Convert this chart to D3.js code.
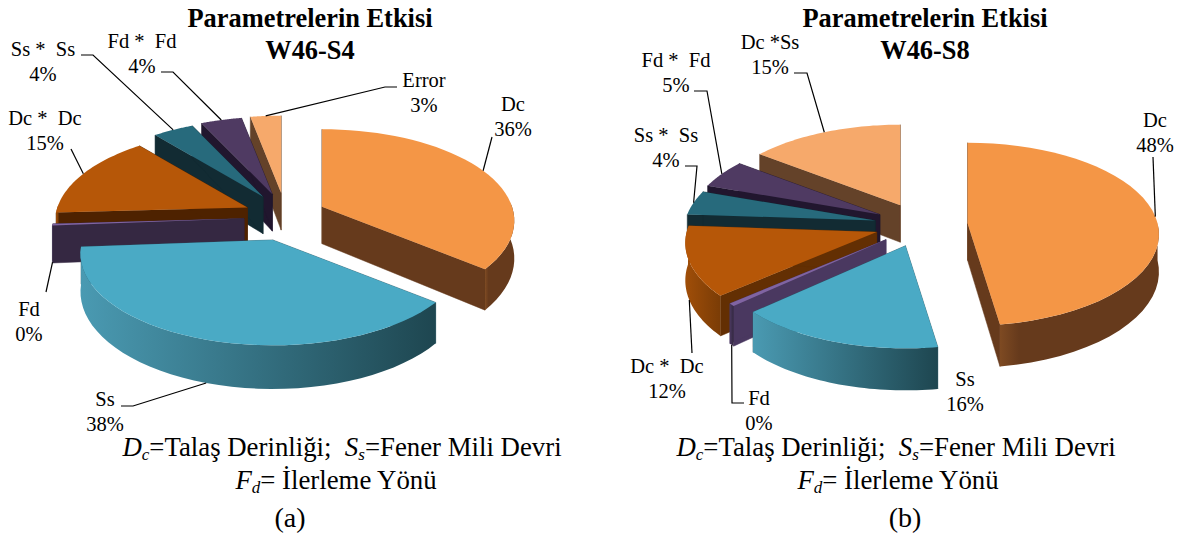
<!DOCTYPE html>
<html><head><meta charset="utf-8">
<script src="https://cdn.jsdelivr.net/npm/d3@7"></script>
<style>
html,body{margin:0;padding:0;background:#fff}
svg{display:block}
text{font-family:"Liberation Serif",serif;fill:#000}
</style></head><body>
<svg id="c" width="1181" height="538"></svg>
<script>
// ---- data ----
const namesA  = ["Dc","Ss","Fd","Dc *  Dc","Ss *  Ss","Fd *  Fd","Error"];
const valuesA = [36,38,0.3,15,4,4,3];
const namesB  = ["Dc","Ss","Fd","Dc *  Dc","Ss *  Ss","Fd *  Fd","Dc *Ss"];
const valuesB = [47.6,15.6,0.49,12.4,4.3,5,14.61];
const titleLine1 = "Parametrelerin Etkisi";
const subtitleA = "W46-S4", subtitleB = "W46-S8";
// ---- styles ----
const topColors   = ["#F49646","#4AAAC5","#8064A2","#B65708","#276A7C","#4F3A62","#F6A96B"];
const wallLight   = ["#7E4A22","#4A9AB2","#4A3860","#A04E08","#16303A","#21162E","#644229"];
const wallDark    = ["#663A1C","#1E4650","#332840","#7A3C06","#122B33","#21162E","#644229"];
const edgeColors  = ["#663A1C","#2A5A68","#4A3860","#632F03","#122B33","#21162E","#644229"];
const wallStop    = [0.12,1,1,1,1,1,1];
// ---- layout ----
const R=190,T=37;
const layoutA={cx:285,cy:217,e:41,ey:24,K:0.47,P:0.153,edgeAlt:{2:"#352842",3:"#4E2200"},
 labels:[[513,104],[105,399],[29,309],[45,118],[43,49],[142,41],[424,80]],
 elbows:[[[492,137]],[[133,406],[121,406]],[[46,292]],[[71,149]],[[93,55],[81,55]],[[173,72],[161,72]],[[385,87],[397,87]]]};
const layoutB={cx:921,cy:225,e:46.7,ey:22,K:0.475,P:0.12,edgeAlt:{},
 labels:[[1155,120],[965,379],[759,398],[667,366],[666,135],[676,60],[770,42]],
 elbows:[[[1153,157]],null,[[732,403],[744,403]],[[692,353]],[[697,166],[685,166]],[[707,91],[694,91]],[[807,73],[794,73]]]};

const svg=d3.select("#c");
const defs=svg.append("defs");
const line=d3.line();
const pct=d3.format(".0f");

function drawPie(id,names,values,L){
  const arcs=d3.pie().sort(null)(values).map((a,i)=>({...a,i,mid:(a.startAngle+a.endAngle)/2}));
  const proj=(a,d,r,h)=>{
    const s=1/(1+L.P*Math.cos(d)*r);
    const ax=L.cx+Math.sin(a)*L.e, ay=L.cy-Math.cos(a)*L.ey;
    return [ax+R*Math.sin(d)*r*s, ay-R*L.K*Math.cos(d)*r*s+h*T*s];
  };
  const g=svg.append("g");
  const order=arcs.slice().sort((p,q)=>Math.cos(q.mid)-Math.cos(p.mid));
  const samples=(d)=>d3.range(0,41).map(j=>d.startAngle+(d.endAngle-d.startAngle)*j/40);
  const sl=g.selectAll("g.s").data(order).join("g").attr("class","s");
  sl.each(function(d){
    const n=d3.select(this),c=L.edgeAlt[d.i]||edgeColors[d.i];
    [d.startAngle,d.endAngle].forEach(e=>{
      n.append("path").attr("fill",c).attr("stroke",c).attr("stroke-width",0.5)
       .attr("d",line([proj(d.mid,e,0,0),proj(d.mid,e,1,0),proj(d.mid,e,1,1),proj(d.mid,e,0,1)])+"Z");
    });
    const front=samples(d).filter(e=>Math.cos(e)<=0.05);
    if(front.length>1){
      const topE=front.map(e=>proj(d.mid,e,1,0)),botE=front.map(e=>proj(d.mid,e,1,1)).reverse();
      const xs=topE.map(p=>p[0]);
      const gid=id+"w"+d.i;
      const gr=defs.append("linearGradient").attr("id",gid).attr("gradientUnits","userSpaceOnUse")
        .attr("x1",d3.min(xs)).attr("x2",d3.max(xs)).attr("y1",0).attr("y2",0);
      gr.append("stop").attr("offset",0).attr("stop-color",wallLight[d.i]);
      gr.append("stop").attr("offset",wallStop[d.i]).attr("stop-color",wallDark[d.i]);
      n.append("path").attr("fill",`url(#${gid})`).attr("d",line(topE.concat(botE))+"Z");
    }
    const top=[proj(d.mid,d.startAngle,0,0)].concat(samples(d).map(e=>proj(d.mid,e,1,0)));
    n.append("path").attr("fill",topColors[d.i]).attr("d",line(top)+"Z");
  });
  arcs.forEach(d=>{
    const el=L.elbows[d.i];
    if(el){
      const anchor=proj(d.mid,d.mid,1,Math.cos(d.mid)<0?1:0);
      svg.append("path").attr("fill","none").attr("stroke","#000").attr("stroke-width",1.2)
        .attr("d",line([anchor].concat(el)));
    }
    const [x,y]=L.labels[d.i];
    svg.append("text").attr("x",x).attr("y",y+7).attr("text-anchor","middle").attr("font-size",20.5).style("white-space","pre").attr("xml:space","preserve").text(names[d.i]);
    svg.append("text").attr("x",x).attr("y",y+31.5).attr("text-anchor","middle").attr("font-size",20.5).text(pct(d.value)+"%");
  });
}
drawPie("a",namesA,valuesA,layoutA);
drawPie("b",namesB,valuesB,layoutB);

function title(x,sub){
  svg.append("text").attr("x",x).attr("y",27).attr("text-anchor","middle").attr("font-size",26.4).attr("font-weight","bold").text(titleLine1);
  svg.append("text").attr("x",x).attr("y",59).attr("text-anchor","middle").attr("font-size",26.4).attr("font-weight","bold").text(sub);
}
title(310,subtitleA);title(925,subtitleB);

function rich(x,y,parts){
  const t=svg.append("text").attr("x",x).attr("y",y).attr("text-anchor","middle").attr("font-size",26.8).attr("xml:space","preserve").style("white-space","pre");
  parts.forEach(p=>{
    const s=t.append("tspan").text(p[0]);
    if(p[1]==="i") s.attr("font-style","italic");
    if(p[1]==="s") s.attr("font-style","italic").attr("font-size",17).attr("dy",4);
    if(p[2]) s.attr("dy",p[2]);
  });
}
function caption(x1,x2,x3,letter){
  rich(x1,456,[["D","i"],["c","s"],["=Talaş Derinliği;  ","",-4],["S","i"],["s","s"],["=Fener Mili Devri","",-4]]);
  rich(x2,489,[["F","i"],["d","s"],["= İlerleme Yönü","",-4]]);
  svg.append("text").attr("x",x3).attr("y",527).attr("text-anchor","middle").attr("font-size",28).text(letter);
}
caption(342,336,290,"(a)");
caption(896,898,905,"(b)");
</script>
</body></html>
